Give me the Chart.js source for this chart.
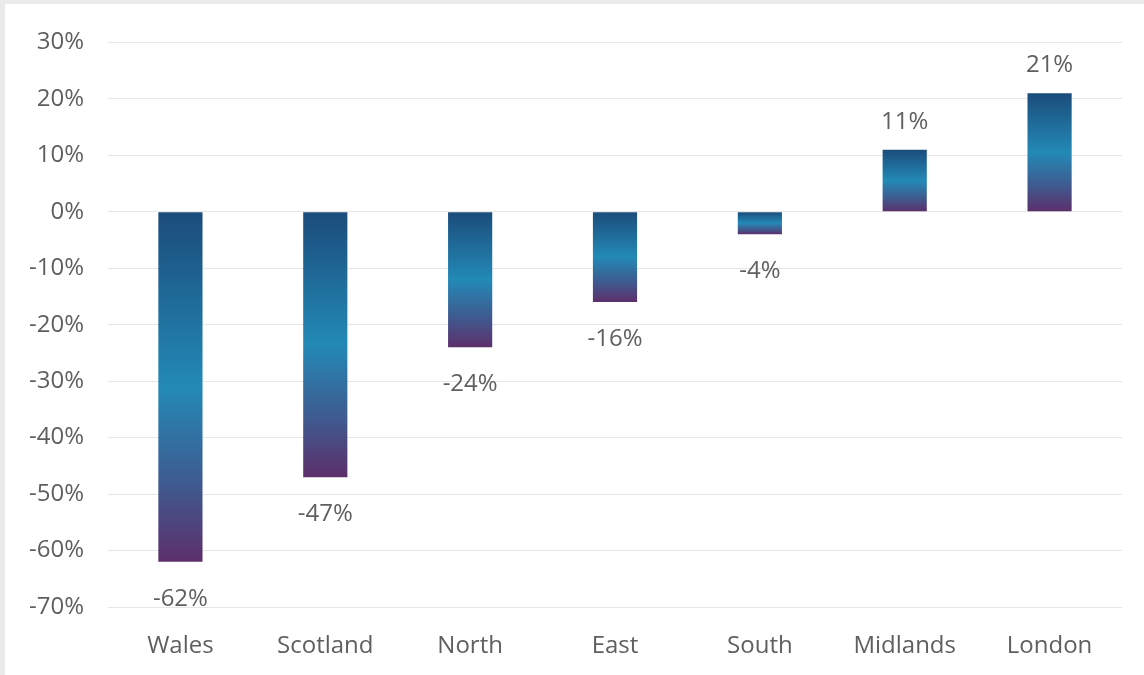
<!DOCTYPE html>
<html>
<head>
<meta charset="utf-8">
<script src="https://cdn.jsdelivr.net/npm/chart.js@4/dist/chart.umd.min.js"></script>
<style>
    html, body { margin: 0; padding: 0; background: #ebebeb; }
    .frame {
        position: absolute;
        left: 5px;
        top: 4px;
        width: 1139px;
        height: 671px;
        background: #ffffff;
    }
</style>
</head>
<body>
<div class="frame"><canvas id="regionChart" width="1139" height="671"></canvas></div>
<script>
// Данные по регионам (изменение, %)
const regions = ['Wales', 'Scotland', 'North', 'East', 'South', 'Midlands', 'London'];
const changes = [-62, -47, -24, -16, -4, 11, 21];
const yTicks = { min: -70, max: 30, step: 10 };

const textColor = '#5f5f5f';
const fontFamily = '"Open Sans", "DejaVu Sans", sans-serif';

// Градиент для каждого столбца: тёмно-синий сверху, бирюзовый в центре, фиолетовый снизу
function barGradient(c) {
    const chart = c.chart;
    if (!chart.chartArea || c.raw === undefined) return '#2388b6';
    const y = chart.scales.y;
    const top = y.getPixelForValue(Math.max(c.raw, 0));
    const bottom = y.getPixelForValue(Math.min(c.raw, 0));
    const g = chart.ctx.createLinearGradient(0, top, 0, bottom);
    g.addColorStop(0, '#1b4c7b');
    g.addColorStop(0.5, '#2389b6');
    g.addColorStop(0.78, '#3f5a8f');
    g.addColorStop(1, '#5d2f6b');
    return g;
}

// Подписи значений над/под столбцами
const valueLabels = {
    id: 'valueLabels',
    afterDatasetsDraw(chart) {
        const ctx = chart.ctx;
        const meta = chart.getDatasetMeta(0);
        ctx.save();
        ctx.font = '24px ' + fontFamily;
        ctx.fillStyle = textColor;
        ctx.textAlign = 'center';
        ctx.textBaseline = 'middle';
        meta.data.forEach((bar, i) => {
            const v = changes[i];
            const y = v < 0 ? bar.y + 37 : bar.y - 28;
            ctx.fillText(v + '%', bar.x, y);
        });
        ctx.restore();
    }
};

const chart = new Chart(document.getElementById('regionChart'), {
    type: 'bar',
    data: {
        labels: regions,
        datasets: [{
            data: changes,
            backgroundColor: barGradient,
            borderWidth: 0,
            categoryPercentage: 1,
            barPercentage: 0.305
        }]
    },
    options: {
        responsive: false,
        animation: false,
        layout: { padding: { left: 0, right: 22, top: 32, bottom: 0 } },
        plugins: {
            legend: { display: false },
            tooltip: { enabled: false }
        },
        scales: {
            x: {
                grid: { display: false, drawTicks: false },
                border: { display: false },
                ticks: {
                    color: textColor,
                    font: { family: fontFamily, size: 24 },
                    padding: 25
                },
                afterFit(scale) { scale.height = 68; }
            },
            y: {
                min: yTicks.min,
                max: yTicks.max,
                grid: { color: '#e6e6e6', lineWidth: 1, drawTicks: false },
                border: { display: false },
                ticks: {
                    stepSize: yTicks.step,
                    color: textColor,
                    font: { family: fontFamily, size: 24 },
                    padding: 24,
                    callback: v => v + '%'
                },
                afterFit(scale) { scale.width = 103; }
            }
        }
    },
    plugins: [valueLabels]
});
</script>
</body>
</html>
